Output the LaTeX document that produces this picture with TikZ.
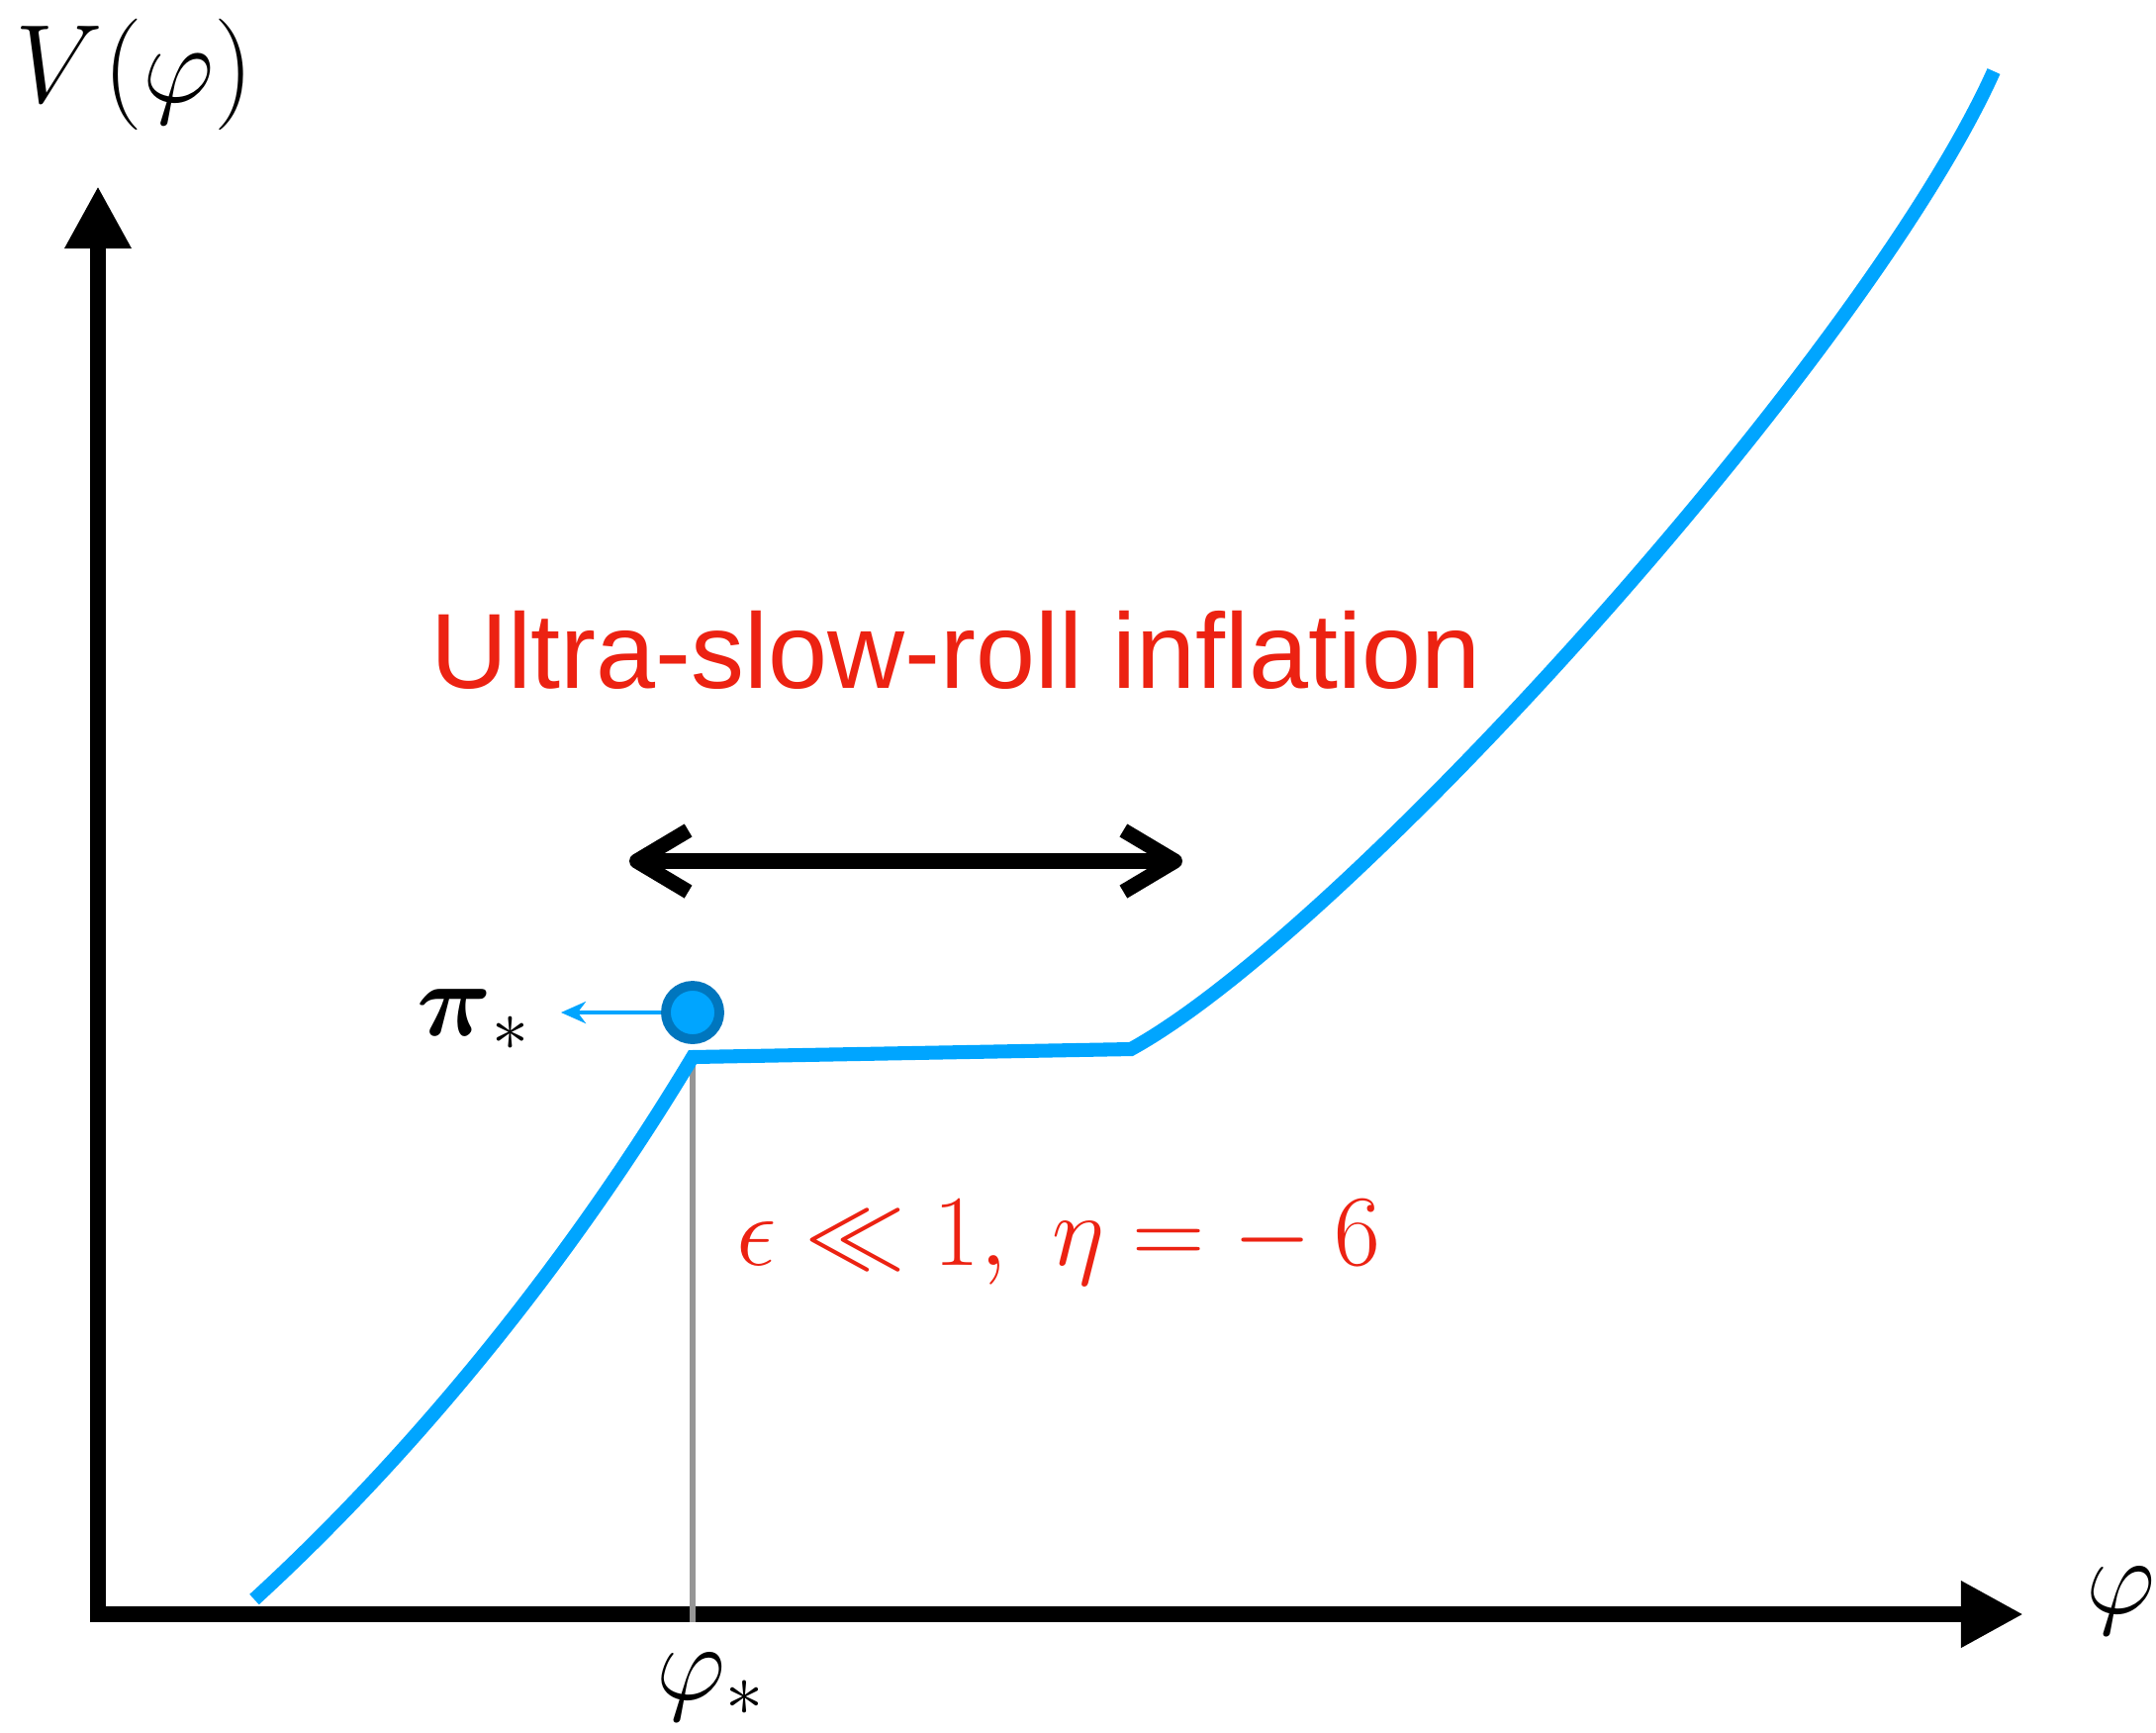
\RequirePackage{fix-cm}
\documentclass[tikz,border=0pt]{standalone}
\usepackage{amsmath}
\usepackage{amssymb}
\usepackage{fontspec}
\usepackage{tikz}
\usetikzlibrary{arrows.meta, positioning}

\definecolor{fieldblue}{RGB}{0,165,255}
\definecolor{ringblue}{RGB}{0,118,190}
\definecolor{usrred}{RGB}{236,34,18}
\definecolor{stargray}{RGB}{150,150,150}
\newfontfamily\titlefont{Liberation Sans}

\begin{document}
\begin{tikzpicture}[x=0.01cm,y=-0.01cm,
    axis/.style={line width=4.5pt,-{Triangle[length=0.63cm,width=0.63cm]}},
    potential/.style={fieldblue,line width=4pt},
    span/.style={line width=4.3pt,
      {Straight Barb[length=0.52cm,width=0.62cm,line join=round]}-{Straight Barb[length=0.52cm,width=0.62cm,line join=round]}},
    kick/.style={fieldblue,line width=1.1pt,-{Stealth[length=0.25cm,width=0.22cm]}},
    ball/.style={circle,fill=fieldblue,draw=ringblue,line width=2.8pt,inner sep=0pt,minimum size=0.54cm},
    mathlbl/.style={inner sep=0pt,font=\fontsize{31pt}{36pt}\selectfont}]
    \useasboundingbox (0,0) rectangle (2179,1750);

    % axes
    \coordinate (origin) at (99,1631);
    \coordinate (ytip) at (99,188);
    \coordinate (xtip) at (2045,1631);
    \coordinate (xstart) at (93,1631);
    \draw[axis] (origin) ++(0,8) -- (ytip);
    \draw[axis] (xstart) -- (xtip);

    % field value at the kink
    \coordinate (kink) at (700,1068);
    \coordinate (kinkfoot) at (700,1639);
    \draw[stargray,line width=1.7pt] (kink) -- (kinkfoot);

    % the potential
    \coordinate (vstart) at (257,1616);
    \coordinate (flatend) at (1143,1060);
    \coordinate (vend) at (2015,72);
    \draw[potential] (vstart) .. controls (425,1462) and (580,1268) .. (kink)
        -- (flatend) .. controls (1362,940) and (1887,357) .. (vend);

    % ultra-slow-roll range
    \coordinate (usrL) at (636,870);
    \coordinate (usrR) at (1195,870);
    \draw[span] (usrL) -- (usrR);
    \node[usrred,inner sep=0pt,anchor=base,font=\titlefont\fontsize{30.7pt}{36pt}\selectfont]
        (usr) at (966,695) {Ultra-slow-roll inflation};
    \node[usrred,anchor=base west,inner sep=0pt,font=\fontsize{29pt}{34pt}\selectfont]
        (srpar) at (744,1278) {$\epsilon \ll 1,\; \eta = -\:6$};

    % initial velocity
    \coordinate (kickend) at (567,1023);
    \node[ball] (field) at (700,1023) {};
    \draw[kick] (field.west) -- (kickend);
    \node[anchor=base east,inner sep=0pt,font=\fontsize{30pt}{36pt}\selectfont]
        (pi) at (537,1046) {$\boldsymbol{\pi}_*$};

    % axis labels
    \node[inner sep=0pt,anchor=base,font=\fontsize{32pt}{38pt}\selectfont]
        (vlabel) at (136,103) {$V(\varphi)$};
    \node[mathlbl,anchor=base west] (philabel) at (2108,1630) {$\varphi$};
    \node[mathlbl,anchor=base] (phistar) at (718,1717) {$\varphi_*$};
\end{tikzpicture}
\end{document}
